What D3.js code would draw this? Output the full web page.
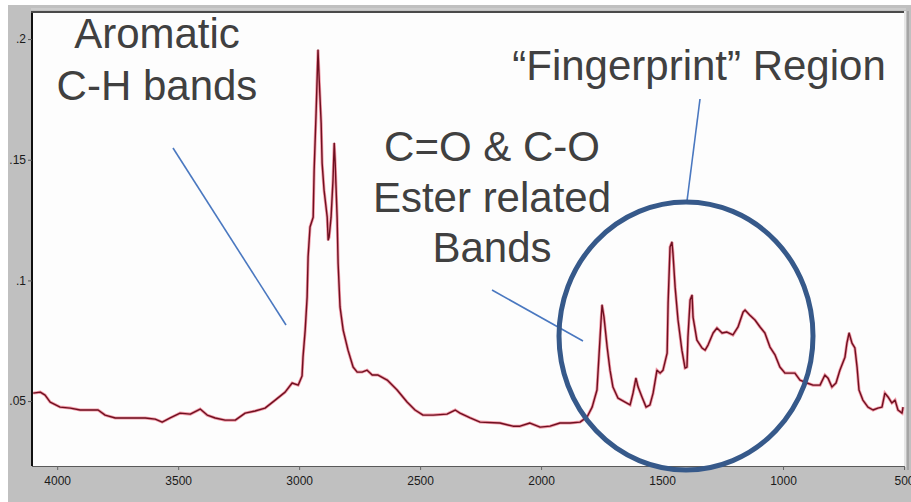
<!DOCTYPE html>
<html>
<head>
<meta charset="utf-8">
<script src="https://cdn.jsdelivr.net/npm/d3@7"></script>
<style>
  html, body { margin: 0; padding: 0; background: #fff; }
  svg { display: block; }
  .tick text { font-family: "Liberation Sans", Arial, sans-serif; font-size: 12px; fill: #1a1a1a; }
  .label { font-family: "Liberation Sans", Arial, sans-serif; font-size: 42px; fill: #404040; }
</style>
</head>
<body>
<svg id="chart" width="911" height="502"></svg>
<script>
// wavenumber (cm-1)
const wavenumbers = [
  4099, 4070, 4050, 4029, 3988, 3946, 3905, 3864, 3831, 3802, 3760, 3719, 3678, 3636, 3595, 3566,
  3533, 3492, 3450, 3409, 3380, 3347, 3306, 3264, 3223, 3182, 3141, 3099, 3058, 3029, 3004, 2988,
  2984, 2975, 2967, 2963, 2955, 2942, 2938, 2930, 2922, 2917, 2909, 2905, 2897, 2884, 2880, 2876,
  2868, 2860, 2855, 2851, 2843, 2839, 2831, 2818, 2798, 2777, 2760, 2740, 2719, 2698, 2674, 2636,
  2595, 2554, 2521, 2488, 2446, 2389, 2355, 2335, 2293, 2252, 2170, 2116, 2087, 2046, 2004, 1963,
  1922, 1880, 1839, 1810, 1789, 1769, 1760, 1752, 1748, 1740, 1727, 1715, 1703, 1682, 1653, 1632,
  1620, 1608, 1599, 1583, 1566, 1550, 1537, 1521, 1508, 1496, 1479, 1475, 1467, 1459, 1455, 1446,
  1434, 1418, 1405, 1397, 1393, 1384, 1376, 1372, 1356, 1335, 1322, 1310, 1289, 1273, 1252, 1232,
  1207, 1186, 1165, 1157, 1137, 1116, 1095, 1075, 1054, 1033, 1013, 992, 971, 951, 930, 901,
  876, 847, 827, 814, 798, 781, 765, 744, 736, 727, 715, 703, 694, 686, 670, 649,
  628, 608, 591, 579, 566, 550, 537, 525, 508, 504
];
// absorbance
const absorbance = [
  0.0533, 0.0537, 0.0525, 0.0496, 0.0475, 0.0471, 0.0463, 0.0463, 0.0463, 0.0442, 0.0430, 0.0430, 0.0430, 0.0430, 0.0425, 0.0413,
  0.0430, 0.0450, 0.0446, 0.0467, 0.0442, 0.0430, 0.0421, 0.0421, 0.0450, 0.0459, 0.0471, 0.0504, 0.0537, 0.0575, 0.0566, 0.0604,
  0.0682, 0.0794, 0.0931, 0.1097, 0.1221, 0.1262, 0.1457, 0.1693, 0.1955, 0.1830, 0.1652, 0.1486, 0.1374, 0.1262, 0.1167, 0.1180,
  0.1262, 0.1416, 0.1569, 0.1486, 0.1262, 0.1072, 0.0890, 0.0794, 0.0711, 0.0641, 0.0620, 0.0620, 0.0628, 0.0608, 0.0608, 0.0587,
  0.0546, 0.0496, 0.0463, 0.0442, 0.0442, 0.0446, 0.0463, 0.0450, 0.0430, 0.0413, 0.0409, 0.0396, 0.0396, 0.0409, 0.0392, 0.0396,
  0.0409, 0.0409, 0.0413, 0.0434, 0.0475, 0.0546, 0.0699, 0.0836, 0.0898, 0.0848, 0.0724, 0.0628, 0.0558, 0.0512, 0.0496, 0.0484,
  0.0533, 0.0595, 0.0558, 0.0517, 0.0475, 0.0484, 0.0533, 0.0628, 0.0616, 0.0628, 0.0699, 0.0906, 0.1138, 0.1159, 0.1113, 0.0972,
  0.0836, 0.0711, 0.0637, 0.0641, 0.0765, 0.0919, 0.0939, 0.0848, 0.0753, 0.0720, 0.0711, 0.0732, 0.0782, 0.0803, 0.0782, 0.0786,
  0.0774, 0.0807, 0.0869, 0.0877, 0.0856, 0.0836, 0.0807, 0.0782, 0.0724, 0.0691, 0.0641, 0.0616, 0.0616, 0.0616, 0.0587, 0.0575,
  0.0566, 0.0566, 0.0608, 0.0595, 0.0558, 0.0575, 0.0628, 0.0682, 0.0740, 0.0782, 0.0740, 0.0720, 0.0641, 0.0546, 0.0504, 0.0475,
  0.0463, 0.0471, 0.0475, 0.0533, 0.0517, 0.0492, 0.0504, 0.0463, 0.0450, 0.0475
];

const xTickValues = [4000, 3500, 3000, 2500, 2000, 1500, 1000, 500];
const xTickLabels = ["4000", "3500", "3000", "2500", "2000", "1500", "1000", "500"];
const yTickValues = [0.05, 0.1, 0.15, 0.2];
const yTickLabels = [".05", ".1", ".15", ".2"];

const annotationLines = [
  ["Aromatic", "C-H bands"],
  ["C=O & C-O", "Ester related", "Bands"],
  ["\u201CFingerprint\u201D Region"]
];

// layout
const plot = { left: 33, right: 904, top: 13, bottom: 466 };
const svg = d3.select("#chart");

const x = d3.scaleLinear().domain([4100, 500]).range([plot.left, plot.right]);
const y = d3.scaleLinear().domain([0.0231, 0.2108]).range([plot.bottom, plot.top]);

// grey window background + white plot box
svg.append("rect").attr("x", 8).attr("y", 5).attr("width", 903).attr("height", 497).attr("fill", "#c0c0c0");
svg.append("rect")
  .attr("x", plot.left).attr("y", plot.top)
  .attr("width", plot.right - plot.left).attr("height", plot.bottom - plot.top)
  .attr("fill", "#fdfdfd");

// sunken frame
svg.append("line").attr("x1", 31).attr("x2", 906).attr("y1", 9).attr("y2", 9).attr("stroke", "#d8d8d8").attr("stroke-width", 1);
svg.append("line").attr("x1", 31).attr("x2", 906).attr("y1", 12).attr("y2", 12).attr("stroke", "#4a4a4a").attr("stroke-width", 2);
svg.append("line").attr("x1", 905).attr("x2", 905).attr("y1", 11).attr("y2", 467).attr("stroke", "#e6e6e6").attr("stroke-width", 2);
svg.append("line").attr("x1", 908).attr("x2", 908).attr("y1", 11).attr("y2", 470).attr("stroke", "#8a8a8a").attr("stroke-width", 1);
svg.append("line").attr("x1", 32).attr("x2", 905).attr("y1", 466.5).attr("y2", 466.5).attr("stroke", "#5a5a5a").attr("stroke-width", 1);

// axes
const yAxis = d3.axisLeft(y)
  .tickValues(yTickValues)
  .tickFormat((d, i) => yTickLabels[i])
  .tickSize(4)
  .tickPadding(2);
const gy = svg.append("g").attr("transform", "translate(" + (plot.left - 1) + ",0)").call(yAxis);
gy.select(".domain").attr("stroke", "#111").attr("stroke-width", 2).attr("d", "M0," + plot.top + "V" + plot.bottom);
gy.selectAll(".tick line").attr("stroke", "#555");

const xAxis = d3.axisBottom(x)
  .tickValues(xTickValues)
  .tickFormat((d, i) => xTickLabels[i])
  .tickSize(4)
  .tickPadding(6);
const gx = svg.append("g").attr("transform", "translate(0," + plot.bottom + ")").call(xAxis);
gx.select(".domain").remove();
gx.selectAll(".tick line").attr("stroke", "#666");

// spectrum
const points = wavenumbers.map((w, i) => [w, absorbance[i]]);
const line = d3.line()
  .x(d => x(d[0]))
  .y(d => y(d[1]));

svg.append("path")
  .datum(points)
  .attr("d", line)
  .attr("fill", "none")
  .attr("stroke", "#e8455e")
  .attr("stroke-opacity", 0.55)
  .attr("stroke-width", 3);
svg.append("path")
  .datum(points)
  .attr("d", line)
  .attr("fill", "none")
  .attr("stroke", "#6e1020")
  .attr("stroke-width", 1.4)
  .attr("stroke-linejoin", "round");

// annotations
const leaderColor = "#4a78c0";
const leaders = [
  [173, 148, 286, 325],
  [492, 290, 583, 341],
  [700, 99, 687, 201]
];
svg.selectAll("line.leader")
  .data(leaders)
  .enter()
  .append("line")
  .attr("class", "leader")
  .attr("x1", d => d[0]).attr("y1", d => d[1])
  .attr("x2", d => d[2]).attr("y2", d => d[3])
  .attr("stroke", leaderColor)
  .attr("stroke-width", 1.6);

svg.append("ellipse")
  .attr("cx", 686).attr("cy", 336)
  .attr("rx", 127).attr("ry", 134)
  .attr("fill", "none")
  .attr("stroke", "#36598a")
  .attr("stroke-width", 5);

const labelLayout = [
  { cx: 157, y0: 48, dy: 52 },
  { cx: 492, y0: 161, dy: 50.5 },
  { cx: 699, y0: 80, dy: 50 }
];
annotationLines.forEach((lines, i) => {
  const L = labelLayout[i];
  svg.append("g")
    .selectAll("text")
    .data(lines)
    .enter()
    .append("text")
    .attr("class", "label")
    .attr("text-anchor", "middle")
    .attr("x", L.cx)
    .attr("y", (d, j) => L.y0 + j * L.dy)
    .text(d => d);
});
</script>
</body>
</html>
